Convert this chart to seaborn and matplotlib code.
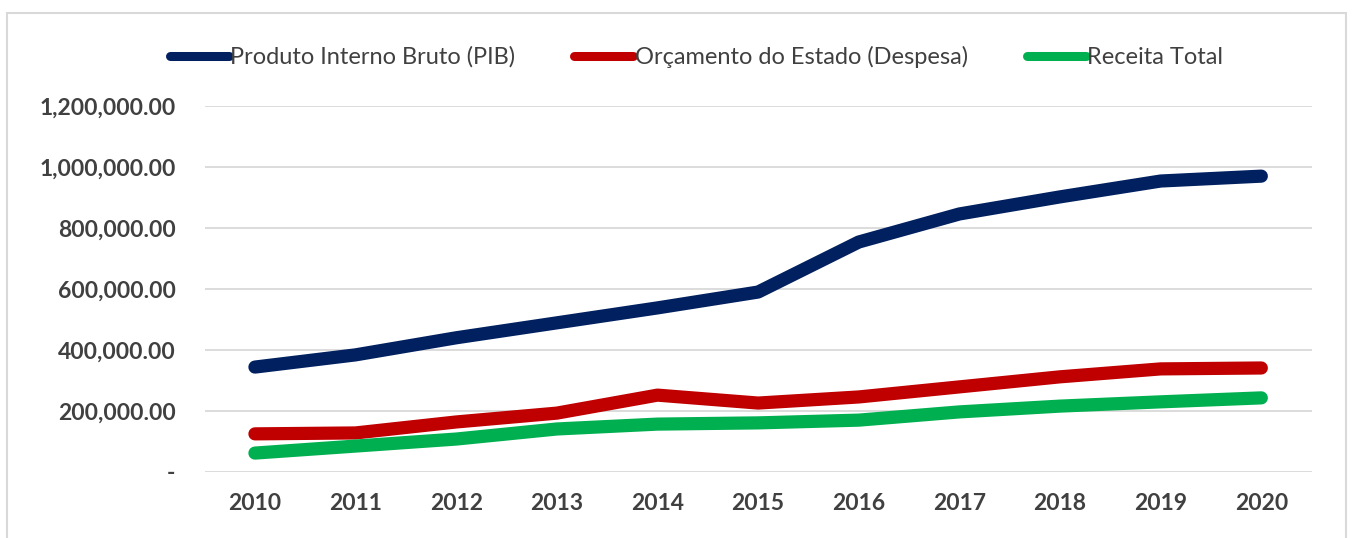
import pandas as pd
import matplotlib.pyplot as plt
import seaborn as sns
from matplotlib.patches import Rectangle
from matplotlib.ticker import FuncFormatter

# ------------------------------------
# Data
# ------------------------------------
years = [2010, 2011, 2012, 2013, 2014, 2015, 2016, 2017, 2018, 2019, 2020]
pib = [344000, 384000, 440000, 489000, 538000, 590000, 754000, 846000, 902000, 954000, 970000]
despesa = [125000, 128000, 164000, 193000, 252000, 226000, 246000, 279000, 312000, 338000, 341000]
receita = [62000, 85000, 108000, 141000, 157000, 161000, 170000, 197000, 216000, 230000, 243000]

series_names = ["Produto Interno Bruto (PIB)", "Orçamento do Estado (Despesa)", "Receita Total"]
colors = ["#002060", "#C00000", "#00B050"]

df = pd.DataFrame({
    "Ano": years * 3,
    "Valor": pib + despesa + receita,
    "Serie": [series_names[0]] * len(years) + [series_names[1]] * len(years) + [series_names[2]] * len(years),
})

sns.set_theme(style="white")
plt.rcParams["font.family"] = ["Lato", "DejaVu Sans"]

fig = plt.figure(figsize=(13.55, 5.38), dpi=100)
ax = fig.add_axes([0.151, 0.1227, 0.817, 0.6803])

sns.lineplot(
    data=df, x="Ano", y="Valor", hue="Serie",
    palette=dict(zip(series_names, colors)),
    linewidth=9.5, ax=ax, solid_capstyle="round", solid_joinstyle="round",
    legend=True
)

ax.set_xlim(2009.5, 2020.5)
ax.set_ylim(0, 1200000)
ax.set_xticks(years)
ax.set_yticks([0, 200000, 400000, 600000, 800000, 1000000, 1200000])
ax.yaxis.set_major_formatter(FuncFormatter(lambda v, p: "-" if v == 0 else f"{v:,.2f}"))
ax.grid(axis="y", color="#D9D9D9", linewidth=1.3)
ax.set_axisbelow(True)
for s in ax.spines.values():
    s.set_visible(False)
ax.set_xlabel("")
ax.set_ylabel("")
ax.tick_params(axis="both", length=0, colors="#404040", labelsize=16.5)
ax.tick_params(axis="x", pad=15)
ax.tick_params(axis="y", pad=21)
for lab in ax.get_xticklabels() + ax.get_yticklabels():
    lab.set_fontweight("bold")

handles, labels = ax.get_legend_handles_labels()
ax.legend(
    handles, labels, loc="center", bbox_to_anchor=(0.514, 1 - 57 / 538),
    bbox_transform=fig.transFigure, ncol=3,
    frameon=False, fontsize=17, handlelength=2.5, handletextpad=0.05,
    columnspacing=2.5, labelcolor="#404040"
)
for line in ax.get_legend().get_lines():
    line.set_linewidth(6.5)
    line.set_solid_capstyle("round")

# Light gray chart frame
fig.patches.append(Rectangle((0.005, -0.05), 0.988, 1.025, transform=fig.transFigure,
                             fill=False, edgecolor="#D9D9D9", linewidth=1.5))

plt.savefig("out.png", dpi=100)
plt.close()
